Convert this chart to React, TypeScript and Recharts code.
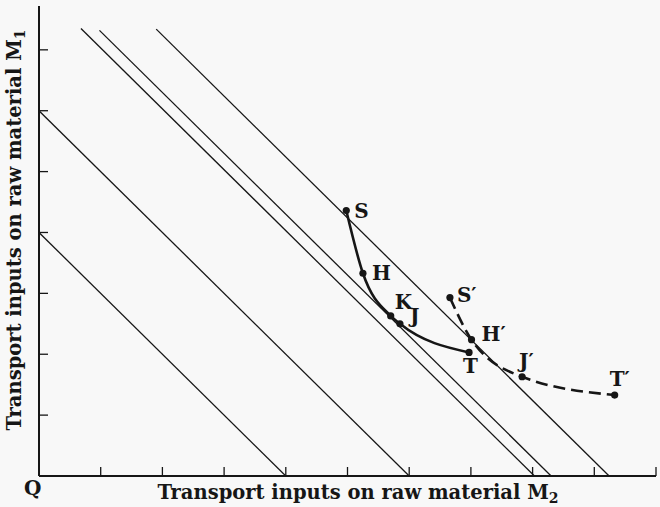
import React from 'react'
import { ComposedChart, XAxis, YAxis, Line, LabelList } from 'recharts'

const xTicks = [1, 2, 3, 4, 5, 6, 7, 8, 9, 10]
const yTicks = [1, 2, 3, 4, 5, 6, 7]

// equal-outlay lines x + y = c, starting at x0 and running down to the M2 axis
const outlayLines = [
  { c: 4, x0: 0 },
  { c: 6, x0: 0 },
  { c: 8.03, x0: 0.68 },
  { c: 8.3, x0: 0.98 },
  { c: 9.24, x0: 1.9 },
]

// transformation curve S..T (solid)
const curveST = [
  { name: 'S', x: 4.98, y: 4.36 },
  { name: 'H', x: 5.25, y: 3.33 },
  { name: 'K', x: 5.7, y: 2.63 },
  { name: 'J', x: 5.85, y: 2.5 },
  { name: 'T', x: 6.97, y: 2.03 },
]

// shifted curve S'..T' (dashed)
const curvePrime = [
  { name: 'S\u2032', x: 6.66, y: 2.93 },
  { name: 'H\u2032', x: 7.01, y: 2.24 },
  { name: 'J\u2032', x: 7.83, y: 1.63 },
  { name: 'T\u2032', x: 9.33, y: 1.33 },
]

const ink = '#161616'
const serif = '"DejaVu Serif", serif'

// where each point label sits relative to its dot
const labelOffset: Record<string, [number, number]> = {
  S: [8, 7],
  H: [9, 7],
  K: [4, -7],
  J: [10, -1],
  T: [-6, 21],
  'S\u2032': [7, 4],
  'H\u2032': [10, 1],
  'J\u2032': [-3, -9],
  'T\u2032': [-5, -9],
}

const renderPointLabel = (props: any) => {
  const { x, y, value } = props
  const [dx, dy] = labelOffset[value] || [6, 0]
  return (
    <text x={x + dx} y={y + dy} fontFamily={serif} fontWeight="bold" fontSize={20} fill={ink}>
      {value}
    </text>
  )
}

const blank = () => ''

export default function App() {
  return (
    <div style={{ position: 'absolute', left: 0, top: 0, width: 660, height: 507, background: '#f8f8f8' }}>
      <ComposedChart width={660} height={507} margin={{ top: 6, right: 4, left: 39, bottom: 31 }}>
        <XAxis
          type="number"
          dataKey="x"
          domain={[0, 10]}
          ticks={xTicks}
          interval={0}
          mirror
          height={1}
          tickSize={9}
          tickFormatter={blank}
          axisLine={{ stroke: ink, strokeWidth: 2 }}
          tickLine={{ stroke: ink, strokeWidth: 1.3 }}
          allowDataOverflow
        />
        <YAxis
          type="number"
          dataKey="y"
          domain={[0, 7.72]}
          ticks={yTicks}
          interval={0}
          mirror
          width={1}
          tickSize={9}
          tickFormatter={blank}
          axisLine={{ stroke: ink, strokeWidth: 2 }}
          tickLine={{ stroke: ink, strokeWidth: 1.3 }}
          allowDataOverflow
        />
        {outlayLines.map((l, i) => (
          <Line
            key={i}
            data={[
              { x: l.x0, y: l.c - l.x0 },
              { x: l.c, y: 0 },
            ]}
            dataKey="y"
            type="linear"
            stroke={ink}
            strokeWidth={1.3}
            dot={false}
            activeDot={false}
            isAnimationActive={false}
          />
        ))}
        <Line
          data={curveST}
          dataKey="y"
          type="monotone"
          stroke={ink}
          strokeWidth={2.6}
          dot={{ r: 3.6, fill: ink, stroke: ink, strokeWidth: 0 }}
          activeDot={false}
          isAnimationActive={false}
        >
          <LabelList dataKey="name" content={renderPointLabel} />
        </Line>
        <Line
          data={curvePrime}
          dataKey="y"
          type="monotone"
          stroke={ink}
          strokeWidth={2.6}
          strokeDasharray="12 6"
          dot={{ r: 3.6, fill: ink, stroke: ink, strokeWidth: 0, strokeDasharray: '0' }}
          activeDot={false}
          isAnimationActive={false}
        >
          <LabelList dataKey="name" content={renderPointLabel} />
        </Line>
      </ComposedChart>
      <svg width={660} height={507} style={{ position: 'absolute', left: 0, top: 0, pointerEvents: 'none' }}>
        <text x={358} y={499} textAnchor="middle" fontFamily={serif} fontWeight="bold" fontSize={19.5} fill={ink}>
          Transport inputs on raw material M
          <tspan fontSize={14} dy={4}>2</tspan>
        </text>
        <text
          transform="translate(21,230) rotate(-90)"
          textAnchor="middle"
          fontFamily={serif}
          fontWeight="bold"
          fontSize={19.5}
          fill={ink}
        >
          Transport inputs on raw material M
          <tspan fontSize={14} dy={4}>1</tspan>
        </text>
        <text x={24} y={495} fontFamily={serif} fontWeight="bold" fontSize={20} fill={ink}>
          Q
        </text>
      </svg>
    </div>
  )
}
